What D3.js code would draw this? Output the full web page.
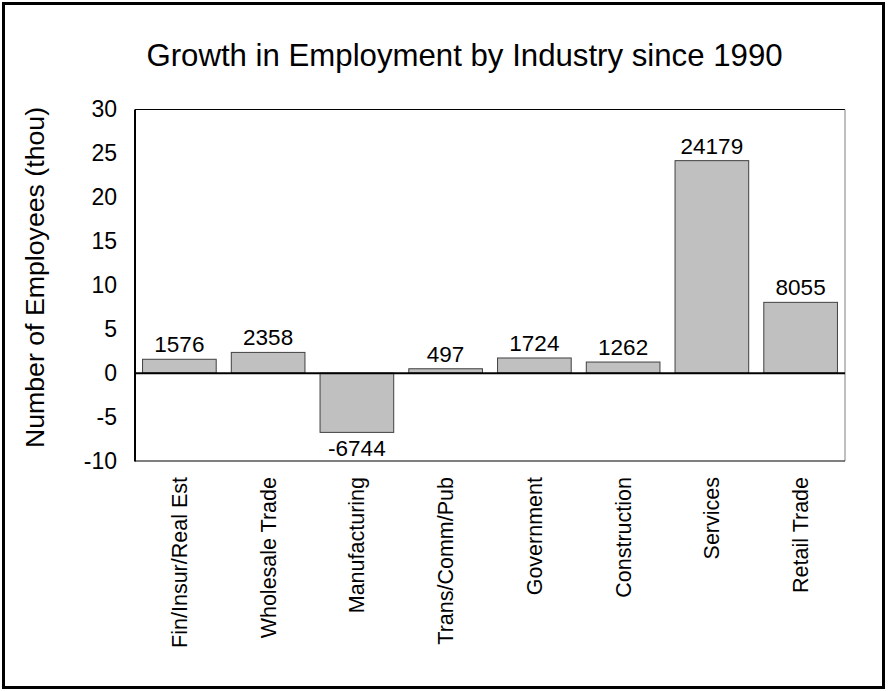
<!DOCTYPE html>
<html>
<head>
<meta charset="utf-8">
<script src="https://cdn.jsdelivr.net/npm/d3@7"></script>
<style>
  html, body { margin: 0; padding: 0; background: #fff; }
  svg { display: block; }
  text { font-family: "Liberation Sans", Arial, sans-serif; fill: #000; }
</style>
</head>
<body>
<script>
const categories = ["Fin/Insur/Real Est", "Wholesale Trade", "Manufacturing", "Trans/Comm/Pub", "Government", "Construction", "Services", "Retail Trade"];
const values = [1576, 2358, -6744, 497, 1724, 1262, 24179, 8055];
const yTicks = [-10, -5, 0, 5, 10, 15, 20, 25, 30];
const titleText = "Growth in Employment by Industry since 1990";
const yLabelText = "Number of Employees (thou)";

const W = 888, H = 691;
const plotLeft = 135, plotRight = 845, plotTop = 109.5, plotBottom = 461;

const svg = d3.select("body").append("svg").attr("width", W).attr("height", H);
svg.append("rect").attr("x", 0).attr("y", 0).attr("width", W).attr("height", H).attr("fill", "#fff");
svg.append("rect").attr("x", 3.5).attr("y", 3.5).attr("width", 880).attr("height", 684)
  .attr("fill", "none").attr("stroke", "#000").attr("stroke-width", 3);

const x = d3.scaleBand().domain(categories).range([plotLeft, plotRight]).paddingInner(0.17).paddingOuter(0.085);
const y = d3.scaleLinear().domain([-10, 30]).range([plotBottom, plotTop]);

// plot frame
svg.append("line").attr("x1", plotLeft).attr("x2", plotRight).attr("y1", plotTop).attr("y2", plotTop).attr("stroke", "#000").attr("stroke-width", 1);
svg.append("line").attr("x1", plotRight).attr("x2", plotRight).attr("y1", plotTop).attr("y2", plotBottom).attr("stroke", "#808080").attr("stroke-width", 1);
svg.append("line").attr("x1", plotLeft).attr("x2", plotRight).attr("y1", plotBottom).attr("y2", plotBottom).attr("stroke", "#000").attr("stroke-width", 1.2);

// bars
svg.selectAll("rect.bar").data(values).enter().append("rect").attr("class", "bar")
  .attr("x", (d, i) => x(categories[i]))
  .attr("width", x.bandwidth())
  .attr("y", d => y(Math.max(0, d / 1000)))
  .attr("height", d => Math.abs(y(d / 1000) - y(0)))
  .attr("fill", "#c0c0c0").attr("stroke", "#404040").attr("stroke-width", 1);

// zero line
svg.append("line").attr("x1", plotLeft).attr("x2", plotRight).attr("y1", y(0)).attr("y2", y(0)).attr("stroke", "#000").attr("stroke-width", 2);

// y axis
const yAxis = d3.axisLeft(y).tickValues(yTicks).tickSize(0).tickPadding(18).tickFormat(d => String(d));
const gy = svg.append("g").attr("transform", `translate(${plotLeft},0)`).call(yAxis);
gy.select(".domain").remove();
gy.selectAll("text").style("font-family", '"Liberation Sans", Arial, sans-serif').style("font-size", "23px").attr("fill", "#000");
svg.append("line").attr("x1", plotLeft).attr("x2", plotLeft).attr("y1", plotTop).attr("y2", plotBottom + 0.6).attr("stroke", "#000").attr("stroke-width", 2);

// bar value labels
svg.selectAll("text.val").data(values).enter().append("text").attr("class", "val")
  .attr("x", (d, i) => x(categories[i]) + x.bandwidth() / 2)
  .attr("y", d => d >= 0 ? y(d / 1000) - 7 : y(d / 1000) + 7)
  .attr("dy", d => d >= 0 ? "0" : "0.72em")
  .attr("text-anchor", "middle").style("font-size", "22.5px")
  .text(d => String(d));

// category labels
svg.selectAll("text.cat").data(categories).enter().append("text").attr("class", "cat")
  .attr("transform", d => `translate(${x(d) + x.bandwidth() / 2},477) rotate(-90)`)
  .attr("text-anchor", "end").attr("dy", "0.35em").style("font-size", "21.5px")
  .text(d => d);

// title
svg.append("text").attr("x", 464.5).attr("y", 66).attr("text-anchor", "middle").style("font-size", "31.2px").text(titleText);

// y label
svg.append("text").attr("transform", "translate(35,277.5) rotate(-90)").attr("text-anchor", "middle").attr("dy", "0.35em")
  .style("font-size", "26.7px").text(yLabelText);
</script>
</body>
</html>
